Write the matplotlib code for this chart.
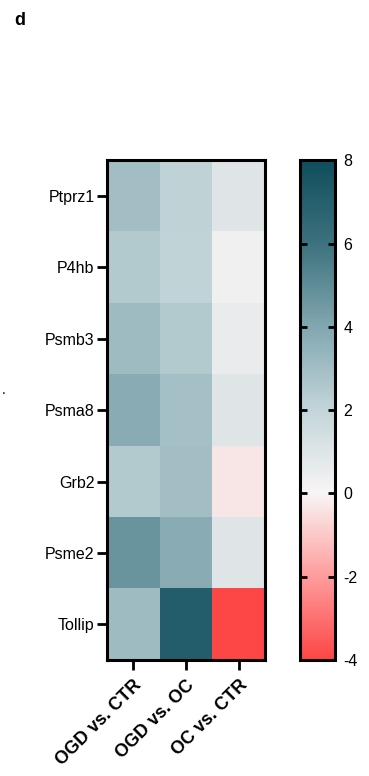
import matplotlib
matplotlib.use('Agg')
import matplotlib.pyplot as plt
import numpy as np
from matplotlib.colors import LinearSegmentedColormap

plt.rcParams['font.family'] = ['Liberation Sans', 'DejaVu Sans']
plt.rcParams['axes.unicode_minus'] = False

genes = ['Ptprz1', 'P4hb', 'Psmb3', 'Psma8', 'Grb2', 'Psme2', 'Tollip']
comparisons = ['OGD vs. CTR', 'OGD vs. OC', 'OC vs. CTR']
ogd_vs_ctr = [3.0, 2.5, 3.1, 3.75, 2.5, 4.7, 3.1]
ogd_vs_oc = [2.1, 2.05, 2.5, 2.9, 3.0, 3.75, 7.1]
oc_vs_ctr = [0.95, 0.3, 0.55, 0.95, -0.3, 0.95, -4.0]

values = np.array([ogd_vs_ctr, ogd_vs_oc, oc_vs_ctr]).T

# colour stops (-4 .. 8 every 2)
stops = ['#fd4646', '#fe9c9c', '#f8f5f5', '#c3d5d9', '#82a7b0', '#3d727e', '#0f4d5c']
cmap = LinearSegmentedColormap.from_list(
    'rw_teal', list(zip(np.linspace(0, 1, len(stops)), stops)))

fig = plt.figure(figsize=(3.69, 7.76), dpi=100)
ax = fig.add_axes([0.290, 0.1495, 0.428, 0.644])
im = ax.imshow(values, cmap=cmap, vmin=-4, vmax=8, aspect='auto')

ax.set_xticks(np.arange(len(comparisons)))
ax.set_xticklabels(comparisons, rotation=45, ha='right', rotation_mode='anchor',
                   fontsize=13, fontweight='bold')
ax.set_yticks(np.arange(len(genes)))
ax.set_yticklabels(genes, fontsize=11.5)
ax.tick_params(axis='both', direction='out', length=7, width=2, pad=2)
ax.tick_params(axis='x', pad=5)
for s in ax.spines.values():
    s.set_linewidth(2.2)

cax = fig.add_axes([0.813, 0.1495, 0.095, 0.644])
cb = fig.colorbar(im, cax=cax, ticks=[-4, -2, 0, 2, 4, 6, 8])
cb.outline.set_linewidth(2.2)
cax.tick_params(direction='in', left=True, right=True, length=5, width=2,
                labelsize=11.5, pad=6)

fig.text(0.038, 0.973, 'd', fontsize=13, fontweight='bold', va='center')
fig.text(0.005, 0.497, '.', fontsize=10, va='center')

fig.savefig('out.png', dpi=100)
